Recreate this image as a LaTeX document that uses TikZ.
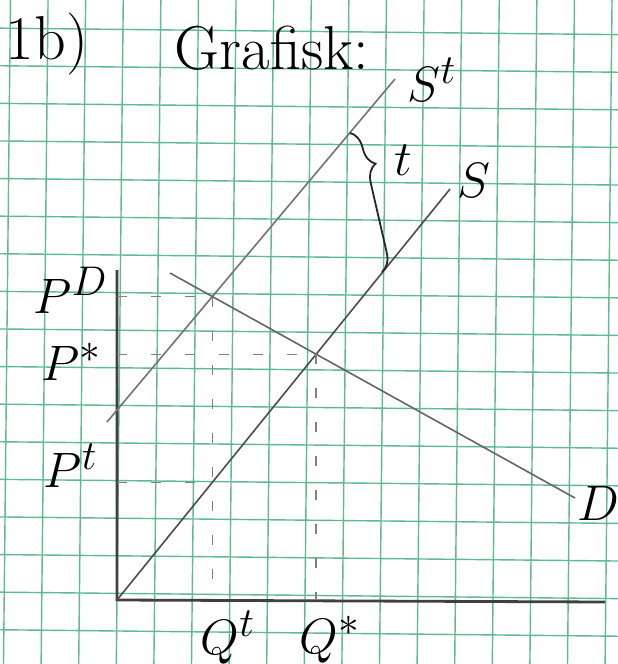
\documentclass[tikz,border=0pt]{standalone}
\usepackage{fontspec}
\usepackage{amsmath,amssymb}
\usepackage{tikz}
\usetikzlibrary{intersections,decorations.pathreplacing,calc}
\tikzset{
  axis/.style={line width=1.4pt, draw=black!75},
  curve/.style={line width=0.8pt, draw=black!70},
  guide/.style={line width=0.7pt, draw=black!50, dash pattern=on 5pt off 12pt},
  lbl/.style={font=\fontsize{24.88}{24.88}\selectfont, inner sep=1pt},
  ttl/.style={font=\fontsize{31}{31}\selectfont, inner sep=1pt}
}
\definecolor{cGrid}{RGB}{95,185,145}

\begin{document}
\begin{tikzpicture}[x=0.5pt, y=-0.5pt]
  \useasboundingbox[fill=white] (0,0) rectangle (617,664);
  % squared paper
  \begin{scope}[rotate around={-0.6:(310,330)}, draw=cGrid, line width=0.7pt]
    \foreach \i in {0,...,16} \draw (7+37.6*\i,-20) -- (7+37.6*\i,684);
    \foreach \j in {0,...,16} \draw (-20,31.4+37.6*\j) -- (637,31.4+37.6*\j);
  \end{scope}
  % axes
  \coordinate (O) at (117,600);
  \coordinate (ytop) at (117,270);
  \coordinate (xend) at (605,602);
  \draw[axis] (ytop) -- (O) -- (xend);
  % supply, supply with tax, demand
  \coordinate (S1) at (450,189);
  \coordinate (St0) at (107,422);
  \coordinate (St1) at (395,79);
  \coordinate (D0) at (170,273);
  \coordinate (D1) at (575,498);
  \draw[curve, name path=sline] (O) -- (S1);
  \draw[curve, draw=black!55, name path=stline] (St0) -- (St1);
  \draw[curve, draw=black!60, name path=dline] (D0) -- (D1);
  \path[name intersections={of=dline and stline, by=Et}];
  \path[name intersections={of=dline and sline, by=Es}];
  \path[name path=qtline] (Et) -- (Et |- O);
  \path[name intersections={of=qtline and sline, by=Pt}];
  % guide lines
  \draw[guide] (O |- Et) -- (Et);
  \draw[guide] (O |- Es) -- (Es);
  \draw[guide] (O |- Pt) -- (Pt);
  \draw[guide] (Et) -- (Et |- O);
  \draw[guide] (Es) -- (Es |- O);
  % tax wedge
  \coordinate (bt) at (350,133);
  \coordinate (bb) at (382,272);
  \draw[line width=0.9pt, black!85, decorate, decoration={brace, amplitude=9pt, aspect=0.25}] (bt) -- (bb);
  % labels
  \node[ttl] (num) at (47,44) {1b)};
  \node[ttl] (title) at (272,48) {Grafisk:};
  \node[lbl] (lSt) at (432,80) {$S^t$};
  \node[lbl] (ltax) at (403,160) {$t$};
  \node[lbl] (lS) at (474,180) {$S$};
  \node[lbl] (lD) at (598,503) {$D$};
  \node[lbl, anchor=east] (lPD) at (110,290) {$P^D$};
  \node[lbl, anchor=east] (lPs) at (104,362) {$P^*$};
  \node[lbl, anchor=east] (lPt) at (100,466) {$P^t$};
  \node[lbl] (lQt) at (228,638) {$Q^t$};
  \node[lbl] (lQs) at (330,640) {$Q^*$};
\end{tikzpicture}
\end{document}
